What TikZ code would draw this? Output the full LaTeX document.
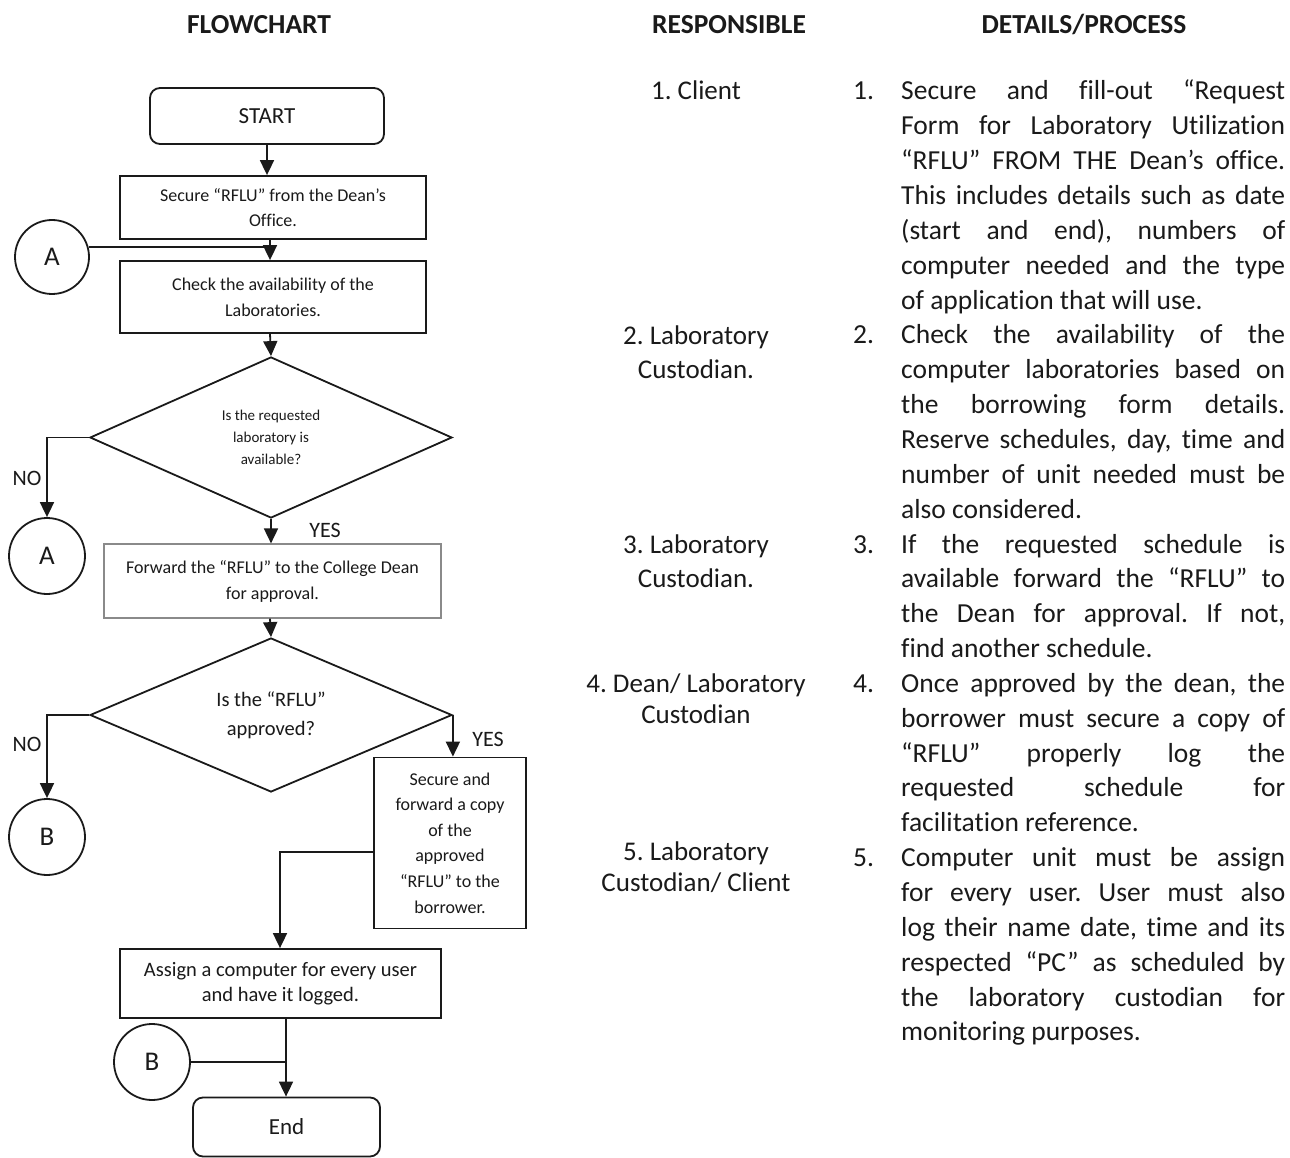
\documentclass[tikz,border=0pt]{standalone}
\usepackage{fontspec}
\setmainfont{Carlito}[Ligatures={NoCommon}]
\usetikzlibrary{arrows.meta,shapes.geometric,calc}
\definecolor{ink}{HTML}{1A1A1A}
\definecolor{lightink}{HTML}{8A8A8A}
\newcommand\Jl[1]{\makebox[384pt][s]{#1}}
\newcommand\Nm[1]{\makebox[48pt][l]{#1}}
\frenchspacing
\begin{document}
\begin{tikzpicture}[x=1pt,y=-1pt,
  every node/.style={text=ink, inner sep=0pt},
  box/.style={draw=ink, line width=1.8pt, rectangle, align=center},
  term/.style={draw=ink, line width=1.8pt, rectangle, rounded corners=10pt, align=center, font=\fontsize{23}{28}\selectfont},
  dec/.style={draw=ink, line width=1.8pt, diamond, shape aspect=2.25, align=center},
  conn/.style={draw=ink, line width=1.8pt, circle, font=\fontsize{27}{30}\selectfont},
  lab/.style={font=\fontsize{22}{26}\selectfont},
  arr/.style={draw=ink, line width=1.8pt, -{Triangle[width=14pt,length=15pt]}},
  ln/.style={draw=ink, line width=1.8pt},
  head/.style={anchor=base, font=\fontsize{27.5}{34}\bfseries\selectfont},
  resp/.style={anchor=base, font=\fontsize{27}{34.85}\selectfont}]
\useasboundingbox[fill=white] (0,0) rectangle (1290,1158);

% headers
\node[head] (h1) at (259,34) {FLOWCHART};
\node[head] (h2) at (729,34) {RESPONSIBLE};
\node[head] (h3) at (1084,34) {DETAILS/PROCESS};

% flowchart nodes
\coordinate (col) at (270,0);
\node[term, minimum width=234, minimum height=56] (start) at (267,116) {START};
\node[box, minimum width=306, minimum height=63, font=\fontsize{18}{25}\selectfont] (b1) at (273,207.5) {Secure “RFLU” from the Dean’s\\Office.};
\node[box, minimum width=306, minimum height=72, font=\fontsize{18}{26}\selectfont] (b2) at (273,297) {Check the availability of the\\Laboratories.};
\node[conn, minimum size=74] (A1) at (52,257) {A};
\node[dec, minimum width=362, minimum height=161, font=\fontsize{15}{22}\selectfont] (d1) at (271,437.5) {Is the requested\\laboratory is\\available?};
\node[conn, minimum size=76] (A2) at (47,556) {A};
\node[box, draw=lightink, line width=1.2pt, minimum width=337, minimum height=74, font=\fontsize{18}{26}\selectfont] (b3) at (272.5,581) {Forward the “RFLU” to the College Dean\\for approval.};
\node[dec, minimum width=362, minimum height=154, font=\fontsize{20.5}{29}\selectfont] (d2) at (271,715) {Is the “RFLU”\\approved?};
\node[conn, minimum size=76] (B1) at (47,837) {B};
\node[box, minimum width=152, minimum height=171, font=\fontsize{18}{25.6}\selectfont] (b4) at (450,843) {Secure and\\forward a copy\\of the\\approved\\“RFLU” to the\\borrower.};
\node[box, minimum width=321, minimum height=69, font=\fontsize{20.5}{25}\selectfont] (b5) at (280.5,983.5) {Assign a computer for every user\\and have it logged.};
\node[conn, minimum size=76] (B2) at (152,1062) {B};
\node[term, minimum width=187, minimum height=59] (end) at (286.5,1127) {End};

% labels
\node[lab] (no1) at (27,478) {NO};
\node[lab] (yes1) at (325,530) {YES};
\node[lab] (no2) at (27,744) {NO};
\node[lab] (yes2) at (488,739) {YES};

% connectors
\draw[arr] (start.south) -- (start.south |- b1.north);
\draw[arr] (col |- b1.south) -- (col |- b2.north);
\draw[ln] (A1.15) -- (A1.15 -| col);
\draw[arr] (col |- b2.south) -- (d1.north);
\draw[arr] (d1.west) -| (A2.north);
\draw[arr] (d1.south) -- (d1.south |- b3.north);
\draw[arr] (col |- b3.south) -- (d2.north);
\draw[arr] (d2.west) -| (B1.north);
\draw[arr] (d2.east) -- (d2.east |- b4.north);
\coordinate (c45) at (280,852);
\draw[arr] (b4.west |- c45) -- (c45) -- (c45 |- b5.north);
\coordinate (c5) at (286,0);
\draw[arr] (c5 |- b5.south) -- (c5 |- end.north);
\draw[ln] (B2.east) -- (B2.east -| c5);

% responsible column
\node[resp] (r1) at (696,100) {\begin{tabular}[t]{@{}c@{}}1. Client\end{tabular}};
\node[resp] (r2) at (696,344) {\begin{tabular}[t]{@{}c@{}}2. Laboratory\\Custodian.\end{tabular}};
\node[resp] (r3) at (696,553) {\begin{tabular}[t]{@{}c@{}}3. Laboratory\\Custodian.\end{tabular}};
\node[resp, font=\fontsize{27}{31}\selectfont] (r4) at (696,692) {\begin{tabular}[t]{@{}c@{}}4. Dean/ Laboratory\\Custodian\end{tabular}};
\node[resp, font=\fontsize{27}{31}\selectfont] (r5) at (696,860) {\begin{tabular}[t]{@{}c@{}}5. Laboratory\\Custodian/ Client\end{tabular}};

% details column
\node[anchor=base west, font=\fontsize{27.5}{34.85}\selectfont] (det) at (853,100) {\begin{tabular}[t]{@{}l@{}l@{}}
\Nm{1.} & \Jl{Secure and fill-out “Request}\\
 & \Jl{Form for Laboratory Utilization}\\
 & \Jl{“RFLU” FROM THE Dean’s office.}\\
 & \Jl{This includes details such as date}\\
 & \Jl{(start and end), numbers of}\\
 & \Jl{computer needed and the type}\\
 & of application that will use.\\
\Nm{2.} & \Jl{Check the availability of the}\\
 & \Jl{computer laboratories based on}\\
 & \Jl{the borrowing form details.}\\
 & \Jl{Reserve schedules, day, time and}\\
 & \Jl{number of unit needed must be}\\
 & also considered.\\
\Nm{3.} & \Jl{If the requested schedule is}\\
 & \Jl{available forward the “RFLU” to}\\
 & \Jl{the Dean for approval. If not,}\\
 & find another schedule.\\
\Nm{4.} & \Jl{Once approved by the dean, the}\\
 & \Jl{borrower must secure a copy of}\\
 & \Jl{“RFLU” properly log the}\\
 & \Jl{requested schedule for}\\
 & facilitation reference.\\
\Nm{5.} & \Jl{Computer unit must be assign}\\
 & \Jl{for every user. User must also}\\
 & \Jl{log their name date, time and its}\\
 & \Jl{respected “PC” as scheduled by}\\
 & \Jl{the laboratory custodian for}\\
 & monitoring purposes.
\end{tabular}};
\end{tikzpicture}
\end{document}
